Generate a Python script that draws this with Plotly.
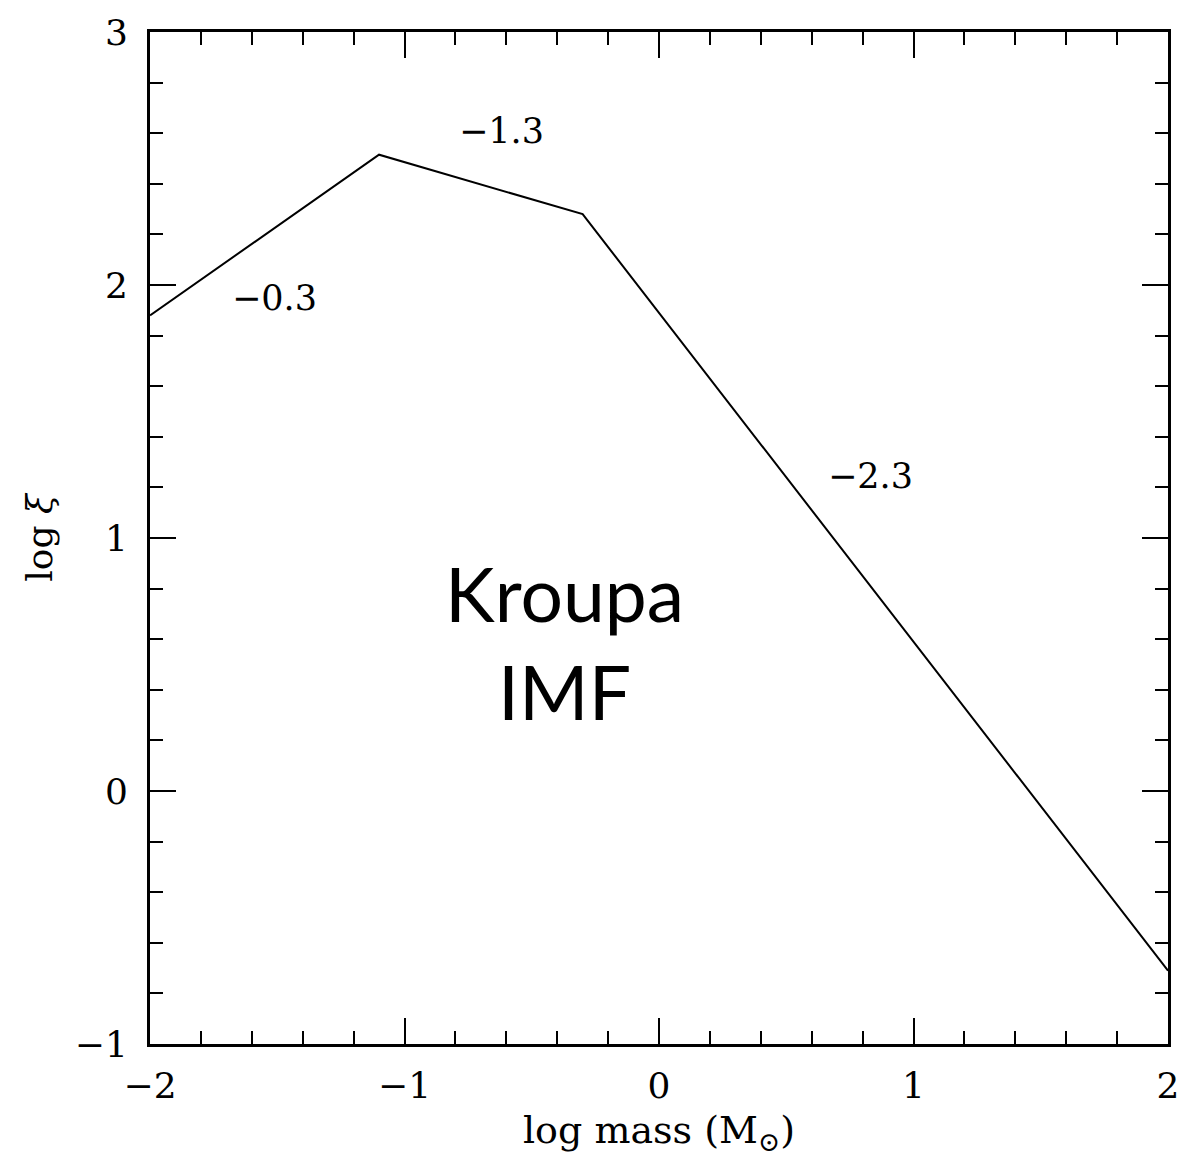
import plotly.graph_objects as go

# Kroupa IMF broken power law (log mass vs log xi)
log_mass = [-2.0, -1.1, -0.3, 2.0]
log_xi = [1.88, 2.515, 2.28, -0.71]

slope_labels = ["−0.3", "−1.3", "−2.3"]
slope_label_x = [-1.51, -0.62, 0.83]
slope_label_y = [1.95, 2.61, 1.245]

x_ticks = [-2, -1, 0, 1, 2]
y_ticks = [-1, 0, 1, 2, 3]

tick_font = dict(family="DejaVu Serif", size=36, color="black")

fig = go.Figure()
fig.add_trace(go.Scatter(x=log_mass, y=log_xi, mode="lines",
                         line=dict(color="black", width=2), showlegend=False))

for t, xx, yy in zip(slope_labels, slope_label_x, slope_label_y):
    fig.add_annotation(x=xx, y=yy, text=t, showarrow=False,
                       font=dict(family="DejaVu Serif", size=35, color="black"))

fig.add_annotation(x=-0.37, y=0.59, text="Kroupa<br>IMF", showarrow=False,
                   font=dict(family="Lato", size=75, color="black"))

fig.update_layout(
    width=1201, height=1161,
    margin=dict(l=150, r=33, t=29, b=117),
    plot_bgcolor="white", paper_bgcolor="white",
    xaxis=dict(range=[-2, 2], tickvals=x_ticks, ticks="inside", ticklen=26,
               tickwidth=2, tickcolor="black", showline=True, linewidth=3,
               linecolor="black", mirror="ticks", showgrid=False, zeroline=False,
               tickfont=tick_font, ticklabelstandoff=8,
               minor=dict(dtick=0.2, ticks="inside", ticklen=13, tickwidth=2,
                          tickcolor="black", showgrid=False),
               title=dict(text="log mass (M<sub>⊙</sub>)",
                          font=dict(family="DejaVu Serif", size=38, color="black"),
                          standoff=12)),
    yaxis=dict(range=[-1, 3], tickvals=y_ticks, ticks="inside", ticklen=26,
               tickwidth=2, tickcolor="black", showline=True, linewidth=3,
               linecolor="black", mirror="ticks", showgrid=False, zeroline=False,
               tickfont=tick_font, ticklabelstandoff=12,
               minor=dict(dtick=0.2, ticks="inside", ticklen=13, tickwidth=2,
                          tickcolor="black", showgrid=False),
               title=dict(text="log <i>ξ</i>",
                          font=dict(family="DejaVu Serif", size=36, color="black"),
                          standoff=12)),
)

fig.write_html("out.html")
